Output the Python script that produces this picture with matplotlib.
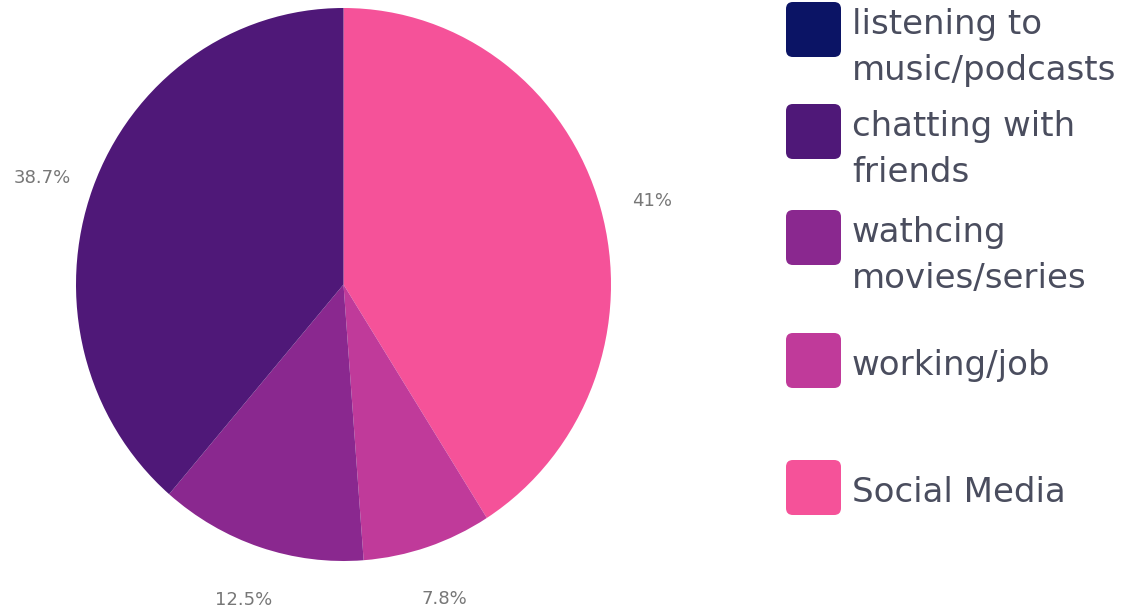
import matplotlib
matplotlib.use("Agg")
import matplotlib.pyplot as plt
from matplotlib.patches import FancyBboxPatch

# Survey: how time is spent on the phone
categories = ["listening to\nmusic/podcasts", "chatting with\nfriends",
              "wathcing\nmovies/series", "working/job", "Social Media"]
shares = [0.0, 38.7, 12.5, 7.8, 41.0]
pct_labels = ["", "38.7%", "12.5%", "7.8%", "41%"]
colors = ["#0b1465", "#4f1878", "#8a288f", "#c03a9a", "#f55299"]

plt.rcParams["font.family"] = ["DejaVu Sans"]

W, H = 1145, 615
fig = plt.figure(figsize=(W / 100, H / 100), dpi=100)
fig.patch.set_facecolor("white")

# pie area in pixel terms (left, top, right, bottom)
pl, pt, pr, pb = 76, 8, 611, 561
ax = fig.add_axes([pl / W, 1 - pb / H, (pr - pl) / W, (pb - pt) / H])

# wedges run clockwise from 12 o'clock: Social Media first
order = list(range(len(shares)))[::-1]
wedges, texts = ax.pie(
    [shares[i] for i in order],
    labels=[pct_labels[i] for i in order],
    colors=[colors[i] for i in order],
    startangle=90, counterclock=False, radius=1.0,
    labeldistance=1.2, frame=True,
    wedgeprops=dict(linewidth=0),
    textprops=dict(fontsize=13, color="#777777"),
)
ax.set_xlim(-1, 1)
ax.set_ylim(-1, 1)
ax.set_aspect("auto")
ax.axis("off")
for t in texts:
    t.set_ha("center")
    # labels above the centre hang below their anchor point
    t.set_va("top" if t.get_position()[1] > 0 else "center")

# legend drawn on the figure
sq_left, sq_size = 786, 55
text_left = 852
sq_tops = [2, 104, 210, 333, 460]
for cat, col, top in zip(categories, colors, sq_tops):
    box = FancyBboxPatch(
        (sq_left / W, 1 - (top + sq_size) / H), sq_size / W, sq_size / H,
        boxstyle="round,pad=0,rounding_size=0.006",
        transform=fig.transFigure, facecolor=col, edgecolor="none",
        mutation_aspect=W / H,
    )
    fig.add_artist(box)
    n_lines = cat.count("\n") + 1
    if n_lines == 1:
        fig.text(text_left / W, 1 - (top + sq_size / 2 + 5) / H, cat,
                 ha="left", va="center", fontsize=24.5, color="#4a4d5e")
    else:
        fig.text(text_left / W, 1 - (top + 6) / H, cat,
                 ha="left", va="top", fontsize=24.5, color="#4a4d5e",
                 linespacing=1.5)

fig.savefig("out.png", dpi=100, facecolor="white")
